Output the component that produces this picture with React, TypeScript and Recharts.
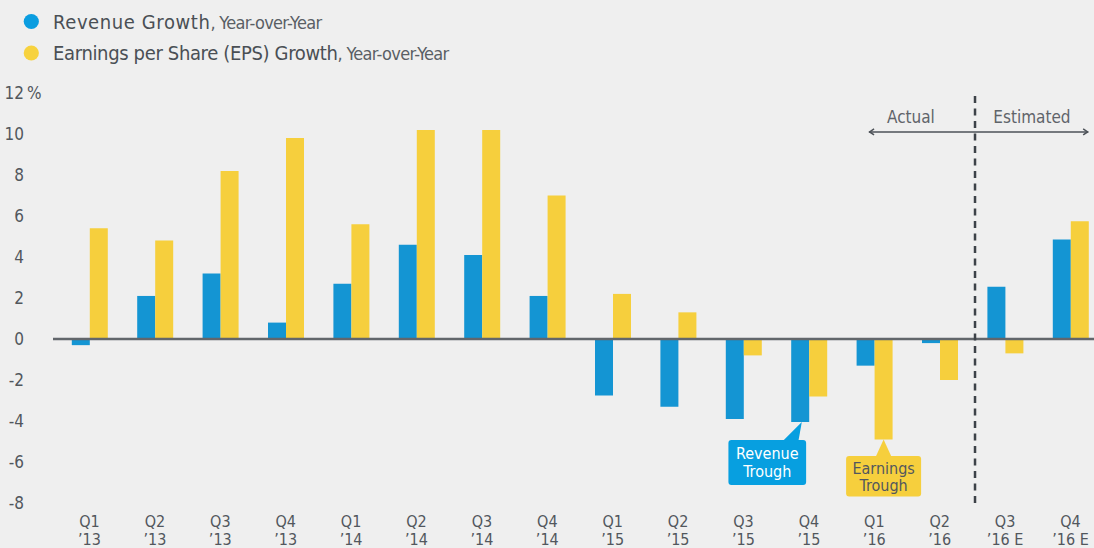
import React from 'react';
import { BarChart, Bar, XAxis, YAxis, ReferenceLine, ReferenceDot } from 'recharts';

// ---------- data ----------
const quarterLabels = ['Q1', 'Q2', 'Q3', 'Q4', 'Q1', 'Q2', 'Q3', 'Q4', 'Q1', 'Q2', 'Q3', 'Q4', 'Q1', 'Q2', 'Q3', 'Q4'];
const yearLabels = ['’13', '’13', '’13', '’13', '’14', '’14', '’14', '’14', '’15', '’15', '’15', '’15', '’16', '’16', '’16 E', '’16 E'];
const revenueGrowth = [-0.3, 2.1, 3.2, 0.8, 2.7, 4.6, 4.1, 2.1, -2.75, -3.3, -3.9, -4.05, -1.3, -0.2, 2.55, 4.85];
const epsGrowth = [5.4, 4.8, 8.2, 9.8, 5.6, 10.2, 10.2, 7.0, 2.2, 1.3, -0.8, -2.8, -4.9, -2.0, -0.7, 5.75];
const yTicks = [-8, -6, -4, -2, 0, 2, 4, 6, 8, 10, 12];
const seriesNames = ['Revenue Growth', 'Earnings per Share (EPS) Growth'];
const seriesSuffix = ', Year-over-Year';
const periodLabels = ['Actual', 'Estimated'];
const dividerAt = 13.54; // between Q2 '16 and Q3 '16 E
const arrowSpan = [11.92, 15.27];
const arrowLevel = 10.1;
const periodLabelPos = [12.56, 14.41];
const revenueTroughIdx = 11;
const earningsTroughIdx = 12;

const data = quarterLabels.map((q, i) => ({
  i,
  key: `${q} ${yearLabels[i]} ${i}`,
  q,
  yr: yearLabels[i],
  revenue: revenueGrowth[i],
  eps: epsGrowth[i],
}));

// ---------- style ----------
const FONT = "'Liberation Sans Narrow', 'DejaVu Sans Condensed', 'Roboto Condensed', 'Liberation Sans', sans-serif";
const BG = '#efefef';
const BLUE = '#1495d3';
const YELLOW = '#f6cf3d';
const TEXT = '#52575d';

const YTick = (props: any) => {
  const { y, payload } = props;
  const v = payload.value;
  return (
    <g>
      <text x={24} y={y} dy="0.36em" textAnchor="end" fontFamily={FONT} fontSize={17} fill={TEXT}>
        {v}
      </text>
      {v === 12 ? (
        <text x={27} y={y} dy="0.36em" textAnchor="start" fontFamily={FONT} fontSize={17} fill={TEXT}>
          %
        </text>
      ) : null}
    </g>
  );
};

const XTick = (props: any) => {
  const { x, y, index } = props;
  return (
    <g>
      <text x={x} y={y + 23.5} textAnchor="middle" fontFamily={FONT} fontSize={16} fill={TEXT}>
        {quarterLabels[index]}
      </text>
      <text x={x} y={y + 41.5} textAnchor="middle" fontFamily={FONT} fontSize={16} fill={TEXT}>
        {yearLabels[index]}
      </text>
    </g>
  );
};

const getBox = (props: any) => {
  const vb = props.viewBox && props.viewBox.width !== undefined ? props.viewBox : props;
  const x = Number(vb.x);
  const y = Number(vb.y);
  const w = Number(vb.width);
  const h = Number(vb.height);
  return { x, w, bottom: Math.max(y, y + h) };
};

const RevenueCallout = (props: any) => {
  if (props.index !== revenueTroughIdx) return null;
  const { x, w, bottom } = getBox(props);
  const tipX = x + w * 0.59;
  const tipY = bottom;
  const boxL = tipX - 73.4;
  const boxR = tipX + 4.3;
  const boxT = tipY + 18;
  const boxB = tipY + 63;
  const cx = (boxL + boxR) / 2;
  return (
    <g>
      <rect x={boxL} y={boxT} width={boxR - boxL} height={boxB - boxT} rx={3} fill="#079fe0" />
      <path d={`M${tipX - 19},${boxT + 1} L${tipX},${tipY} L${tipX - 3.4},${boxT + 1} Z`} fill="#079fe0" />
      <text x={cx} y={boxT + 19.3} textAnchor="middle" fontFamily={FONT} fontSize={16} fill="#ffffff">
        Revenue
      </text>
      <text x={cx} y={boxT + 36.7} textAnchor="middle" fontFamily={FONT} fontSize={16} fill="#ffffff">
        Trough
      </text>
    </g>
  );
};

const EarningsCallout = (props: any) => {
  if (props.index !== earningsTroughIdx) return null;
  const { x, w, bottom } = getBox(props);
  const tipX = x + w / 2;
  const tipY = bottom;
  const boxL = tipX - 37.5;
  const boxR = tipX + 37.5;
  const boxT = tipY + 16.6;
  const boxB = tipY + 57;
  return (
    <g>
      <rect x={boxL} y={boxT} width={boxR - boxL} height={boxB - boxT} rx={3} fill={YELLOW} />
      <path d={`M${tipX - 8},${boxT + 1} L${tipX},${tipY} L${tipX + 8},${boxT + 1} Z`} fill={YELLOW} />
      <text x={tipX} y={boxT + 17.7} textAnchor="middle" fontFamily={FONT} fontSize={16} fill={TEXT}>
        Earnings
      </text>
      <text x={tipX} y={boxT + 34.7} textAnchor="middle" fontFamily={FONT} fontSize={16} fill={TEXT}>
        Trough
      </text>
    </g>
  );
};

const DoubleArrow = (props: any) => {
  const { x1, y1, x2, y2 } = props;
  const c = '#4d5258';
  return (
    <g>
      <line x1={x1} y1={y1} x2={x2} y2={y2} stroke={c} strokeWidth={1.5} />
      <polyline points={`${x1 + 5},${y1 - 3} ${x1 + 0.5},${y1} ${x1 + 5},${y1 + 3}`} fill="none" stroke={c} strokeWidth={1.5} />
      <polyline points={`${x2 - 5},${y2 - 3} ${x2 - 0.5},${y2} ${x2 - 5},${y2 + 3}`} fill="none" stroke={c} strokeWidth={1.5} />
    </g>
  );
};

const Legend = () => {
  const colors = ['#0a9de0', '#f7d23e'];
  const rows = [21.5, 53];
  const nameSpacing = [0.6, -0.35];
  return (
    <svg width={500} height={80} style={{ position: 'absolute', left: 0, top: 0 }}>
      {seriesNames.map((name, k) => (
        <g key={name}>
          <circle cx={31.3} cy={rows[k]} r={7.6} fill={colors[k]} />
          <text x={53} y={rows[k] + 7} fontFamily={FONT} fontSize={20} fill="#4a4f55">
            <tspan fontWeight={500} letterSpacing={nameSpacing[k]}>
              {name}
            </tspan>
            <tspan fill="#5a5f65" fontSize={18} letterSpacing={-0.7}>
              {seriesSuffix}
            </tspan>
          </text>
        </g>
      ))}
    </svg>
  );
};

export default function App() {
  return (
    <div
      style={{
        position: 'fixed',
        left: 0,
        top: 0,
        width: 1094,
        height: 548,
        overflow: 'hidden',
        background: BG,
      }}
    >
      <Legend />
      <div style={{ position: 'absolute', left: 0, top: 0 }}>
        <BarChart
          width={1110}
          height={548}
          data={data}
          margin={{ top: 93, right: 6.8, bottom: 0, left: 0 }}
          barGap={0}
          barSize={18}
        >
          <XAxis
            xAxisId="cat"
            dataKey="key"
            height={45}
            axisLine={false}
            tickLine={false}
            tickSize={0}
            tickMargin={0}
            interval={0}
            tick={<XTick />}
            padding={{ left: 3.8, right: 0 }}
          />
          <XAxis
            xAxisId="num"
            type="number"
            dataKey="i"
            domain={[-0.5, 15.5]}
            allowDataOverflow
            hide
            padding={{ left: 3.8, right: 0 }}
          />
          <YAxis
            domain={[-8, 12]}
            ticks={yTicks}
            width={53}
            axisLine={false}
            tickLine={false}
            tickSize={0}
            tickMargin={0}
            interval={0}
            allowDataOverflow
            tick={<YTick />}
          />
          <Bar
            xAxisId="cat"
            dataKey="revenue"
            name={seriesNames[0]}
            fill={BLUE}
            isAnimationActive={false}
            label={RevenueCallout}
          />
          <Bar
            xAxisId="cat"
            dataKey="eps"
            name={seriesNames[1]}
            fill={YELLOW}
            isAnimationActive={false}
            label={EarningsCallout}
          />
          <ReferenceLine xAxisId="cat" y={0} stroke="#62666b" strokeWidth={2.5} />
          <ReferenceLine
            xAxisId="num"
            x={dividerAt}
            stroke="#3d4248"
            strokeWidth={2.5}
            strokeDasharray="7 5.5"
          />
          <ReferenceLine
            xAxisId="num"
            segment={[
              { x: arrowSpan[0], y: arrowLevel },
              { x: arrowSpan[1], y: arrowLevel },
            ]}
            shape={DoubleArrow}
          />
          {periodLabels.map((lab, k) => (
            <ReferenceDot
              key={lab}
              xAxisId="num"
              x={periodLabelPos[k]}
              y={arrowLevel}
              r={0}
              fill="none"
              stroke="none"
              label={{ value: lab, position: 'top', offset: 8.5, fill: '#5f646a', fontSize: 17, fontFamily: FONT }}
            />
          ))}
        </BarChart>
      </div>
    </div>
  );
}
